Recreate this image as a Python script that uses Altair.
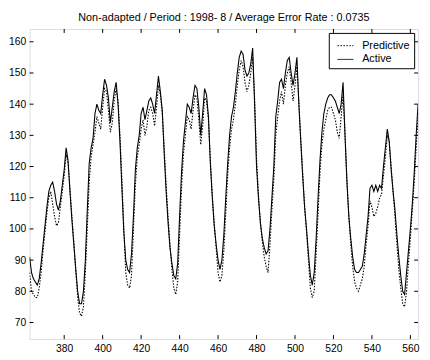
import altair as alt
import pandas as pd

hours = list(range(362, 565))

active = [91, 86, 84, 83, 82, 84, 89, 95, 101, 107, 112, 114, 115, 112, 108, 106, 109, 114, 119, 126,
          122, 112, 103, 95, 87, 80, 76, 76, 80, 90, 106, 121, 126, 129, 137, 140, 138, 137, 143, 148,
          146, 142, 134, 139, 144, 147, 140, 128, 113, 99, 90, 87, 86, 92, 104, 119, 126, 130, 137, 139,
          135, 138, 141, 142, 140, 137, 143, 149, 144, 138, 124, 112, 102, 94, 89, 85, 84, 89, 104, 118,
          128, 134, 140, 139, 137, 142, 146, 145, 139, 130, 137, 145, 143, 136, 121, 110, 101, 95, 90, 87,
          90, 98, 110, 121, 130, 136, 139, 144, 150, 155, 157, 156, 151, 149, 150, 153, 158, 140, 120, 110,
          102, 97, 94, 92, 93, 100, 110, 120, 136, 141, 147, 148, 145, 150, 154, 155, 150, 146, 150, 155,
          140, 128, 117, 107, 100, 92, 85, 82, 86, 97, 110, 122, 131, 137, 140, 142, 143, 143, 142, 141,
          139, 137, 140, 147, 130, 115, 104, 97, 91, 87, 86, 86, 87, 88, 92, 98, 104, 113, 114, 112,
          114, 112, 114, 113, 120, 126, 132, 128, 119, 112, 106, 98, 91, 85, 80, 79, 86, 93, 100, 108,
          118, 130, 140]

predictive = [86, 80, 79, 78, 78, 81, 86, 93, 99, 105, 110, 112, 108, 104, 101, 102, 107, 112, 117, 124,
              121, 113, 104, 96, 87, 78, 73, 72, 75, 86, 100, 115, 123, 127, 131, 136, 134, 132, 139, 145,
              144, 138, 131, 134, 141, 145, 141, 130, 116, 100, 86, 82, 81, 85, 100, 114, 123, 127, 132, 135,
              130, 133, 138, 139, 137, 133, 139, 146, 143, 137, 126, 114, 104, 95, 87, 81, 79, 83, 98, 113,
              124, 130, 136, 135, 132, 138, 143, 142, 135, 127, 133, 142, 141, 135, 122, 111, 102, 94, 86, 83,
              85, 93, 105, 117, 126, 132, 135, 140, 146, 151, 154, 152, 147, 144, 146, 150, 155, 142, 123, 111,
              102, 96, 91, 88, 86, 95, 106, 116, 130, 136, 141, 144, 140, 146, 150, 152, 147, 141, 146, 152,
              141, 129, 118, 107, 99, 90, 81, 78, 80, 92, 105, 118, 127, 132, 135, 138, 139, 139, 137, 135,
              131, 129, 136, 143, 131, 116, 104, 95, 88, 83, 81, 80, 82, 84, 88, 95, 101, 109, 107, 104,
              105, 107, 110, 111, 117, 123, 130, 128, 120, 112, 104, 95, 87, 81, 76, 75, 80, 89, 97, 106,
              115, 126, 136]

series_names = ["Predictive", "Active"]
x_ticks = [380, 400, 420, 440, 460, 480, 500, 520, 540, 560]
y_ticks = [70, 80, 90, 100, 110, 120, 130, 140, 150, 160]
title_text = "Non-adapted / Period : 1998- 8 / Average Error Rate : 0.0735"

W, H = 396, 316
FONT = "Liberation Sans"

df = pd.concat([
    pd.DataFrame({"hour": hours, "value": predictive, "series": "Predictive"}),
    pd.DataFrame({"hour": hours, "value": active, "series": "Active"}),
])

xscale = alt.Scale(domain=[362, 564], nice=False, zero=False)
yscale = alt.Scale(domain=[64.7, 164.1], nice=False, zero=False)

x_axis = alt.Axis(values=x_ticks, title=None, grid=False, domain=False, ticks=False,
                  labelOverlap=False, labelFlush=False,
                  labelPadding=5, labelFontSize=10.5, labelFont=FONT, labelColor="black")
y_axis = alt.Axis(values=y_ticks, title=None, grid=False, domain=False, ticks=False,
                  labelOverlap=False, labelFlush=False,
                  labelPadding=4, labelFontSize=10.5, labelFont=FONT, labelColor="black")

lines = alt.Chart(df).mark_line(color="black", strokeWidth=1.1, clip=True).encode(
    x=alt.X("hour:Q", scale=xscale, axis=x_axis),
    y=alt.Y("value:Q", scale=yscale, axis=y_axis),
    strokeDash=alt.StrokeDash("series:N",
                              scale=alt.Scale(domain=series_names, range=[[1.5, 1.5], [1, 0]]),
                              sort=series_names,
                              legend=alt.Legend(title=None, orient="top-right", offset=4,
                                                strokeColor="black", fillColor="white",
                                                padding=4, rowPadding=0, symbolType="stroke",
                                                symbolStrokeColor="black", symbolStrokeWidth=1,
                                                symbolSize=260, labelFont=FONT, labelFontSize=11,
                                                labelColor="black", symbolOffset=4, labelOffset=8)),
    detail="series:N",
)

xt = pd.DataFrame({"t": x_ticks})
yt = pd.DataFrame({"t": y_ticks})
tick_len = 4

xb = alt.Chart(xt).mark_rule(color="black", strokeWidth=1).encode(
    x=alt.X("t:Q", scale=xscale, axis=x_axis), y=alt.value(H), y2=alt.value(H - tick_len))
xtop = alt.Chart(xt).mark_rule(color="black", strokeWidth=1).encode(
    x=alt.X("t:Q", scale=xscale, axis=x_axis), y=alt.value(0), y2=alt.value(tick_len))
yl = alt.Chart(yt).mark_rule(color="black", strokeWidth=1).encode(
    y=alt.Y("t:Q", scale=yscale, axis=y_axis), x=alt.value(0), x2=alt.value(tick_len))
yr = alt.Chart(yt).mark_rule(color="black", strokeWidth=1).encode(
    y=alt.Y("t:Q", scale=yscale, axis=y_axis), x=alt.value(W), x2=alt.value(W - tick_len))

chart = alt.layer(lines, xb, xtop, yl, yr).properties(
    width=W, height=H,
    title=alt.Title(title_text, font=FONT, fontSize=11, fontWeight="normal", color="black",
                    offset=6, anchor="middle"),
    autosize=alt.AutoSizeParams(type="none"),
    padding={"left": 22, "top": 18, "right": 4, "bottom": 18},
).configure_view(stroke="black", strokeWidth=1.2).configure(background="white")

chart.save("out.html", embed_options={"renderer": "svg", "actions": False})
